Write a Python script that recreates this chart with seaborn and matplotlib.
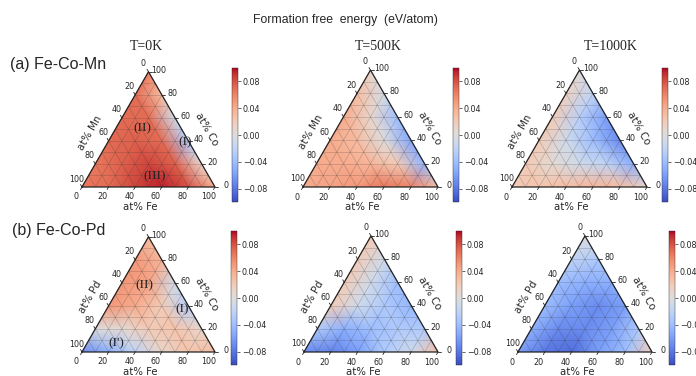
import numpy as np
import matplotlib
matplotlib.use("Agg")
import matplotlib.pyplot as plt
import matplotlib.tri as mtri
from matplotlib.ticker import FuncFormatter
import seaborn as sns

# formation free energy (eV/atom) on a 20 at% grid
# each row is one Co level (0, 20, ... 100), values go along Fe = 0, 20, ...
fecomn_0k = [
    [0.065, 0.070, 0.085, 0.095, 0.080, 0.040],
    [0.065, 0.075, 0.085, 0.075, 0.010],
    [0.070, 0.075, 0.070, -0.030],
    [0.070, 0.070, -0.010],
    [0.070, 0.030],
    [0.060],
]
fecomn_500k = [
    [0.040, 0.045, 0.050, 0.065, 0.060, 0.030],
    [0.040, 0.040, 0.035, 0.020, -0.045],
    [0.040, 0.030, 0.000, -0.055],
    [0.040, 0.010, -0.040],
    [0.030, -0.005],
    [0.010],
]
fecomn_1000k = [
    [0.020, 0.025, 0.030, 0.035, 0.030, 0.010],
    [0.020, 0.005, -0.010, -0.020, -0.050],
    [0.020, -0.010, -0.040, -0.070],
    [0.020, -0.025, -0.060],
    [0.015, -0.020],
    [0.000],
]
fecopd_0k = [
    [-0.070, -0.050, -0.020, 0.010, 0.025, 0.030],
    [0.000, 0.005, 0.020, 0.025, 0.010],
    [0.050, 0.040, 0.020, -0.025],
    [0.050, 0.045, -0.010],
    [0.050, 0.035],
    [0.030],
]
fecopd_500k = [
    [-0.070, -0.075, -0.060, -0.030, -0.010, 0.030],
    [-0.030, -0.050, -0.040, -0.030, -0.030],
    [0.020, -0.010, -0.030, -0.045],
    [0.020, -0.010, -0.040],
    [0.020, -0.010],
    [0.020],
]
fecopd_1000k = [
    [-0.060, -0.080, -0.085, -0.060, -0.040, 0.020],
    [-0.050, -0.070, -0.070, -0.060, -0.030],
    [-0.040, -0.060, -0.070, -0.060],
    [-0.040, -0.050, -0.050],
    [-0.020, -0.030],
    [0.000],
]

temps = ["T=0K", "T=500K", "T=1000K"]
systems = ["(a) Fe-Co-Mn", "(b) Fe-Co-Pd"]
third_elements = ["Mn", "Pd"]
tick_values = [0, 20, 40, 60, 80, 100]
cbar_ticks = [0.08, 0.04, 0.0, -0.04, -0.08]

# region labels: (text, at% Fe, at% Co)
regions_mn = [("(II)", 20, 51), ("(I)", 58, 39), ("(III)", 50, 9)]
regions_pd = [("(II)", 18, 58), ("(I)", 57, 37), ("(I')", 22, 8)]

W, H = 696, 376
S3 = np.sqrt(3) / 2

sns.set_theme(style="white")
plt.rcParams["font.family"] = ["DejaVu Sans"]
cmap = sns.color_palette("coolwarm", as_cmap=True)

fig = plt.figure(figsize=(W / 100, H / 100), dpi=100)


def to_xy(fe, co):
    fe = np.asarray(fe, dtype=float)
    co = np.asarray(co, dtype=float)
    return fe / 100 + co / 200, co / 100 * S3


def ternary(left, base, width, rows, third, regions):
    ax = fig.add_axes([left / W, 1 - base / H, width / W, width * S3 / H])
    ax.set_xlim(0, 1)
    ax.set_ylim(0, S3)
    ax.axis("off")

    fe, co, z = [], [], []
    for i, row in enumerate(rows):
        for j, v in enumerate(row):
            fe.append(j * 20)
            co.append(i * 20)
            z.append(v)
    x, y = to_xy(fe, co)
    tri = mtri.Triangulation(x, y)
    m = ax.tripcolor(tri, z, shading="gouraud", cmap=cmap, vmin=-0.1, vmax=0.1)

    # gridlines every 10 at%
    gk = dict(color="#333333", lw=0.45, alpha=0.3)
    for k in range(10, 100, 10):
        xs, ys = to_xy([k, k], [0, 100 - k])
        ax.plot(xs, ys, **gk)
        xs, ys = to_xy([0, 100 - k], [k, k])
        ax.plot(xs, ys, **gk)
        xs, ys = to_xy([0, 100 - k], [100 - k, 0])
        ax.plot(xs, ys, **gk)

    ax.plot([0, 1, 0.5, 0], [0, 0, S3, 0], color="#222222", lw=0.9, clip_on=False)

    tk = dict(color="#222222", lw=0.6, clip_on=False)
    fs = 5.8
    for t in tick_values:
        # bottom axis (Fe)
        bx, by = to_xy(t, 0)
        ax.plot([bx, bx - 0.011], [by, by - 0.019], **tk)
        ax.text(bx - 0.045, by - 0.075, str(t), ha="center", va="center", fontsize=fs)
        # right axis (Co)
        rx, ry = to_xy(100 - t, t)
        ax.plot([rx, rx + 0.024], [ry, ry], **tk)
        ax.text(rx + 0.08, ry + 0.012, str(t), ha="center", va="center", fontsize=fs)
        # left axis (third element)
        lx, ly = to_xy(0, 100 - t)
        ax.plot([lx, lx - 0.011], [ly, ly + 0.019], **tk)
        ax.text(lx - 0.04, ly + 0.06, str(t), ha="center", va="center", fontsize=fs)

    ax.text(0.44, -0.15, "at% Fe", ha="center", va="center", fontsize=7.3)
    ax.text(0.06, 0.41, f"at% {third}", ha="center", va="center", fontsize=7.3, rotation=60)
    ax.text(0.935, 0.435, "at% Co", ha="center", va="center", fontsize=7.3, rotation=-60)

    for label, f, c in regions:
        tx, ty = to_xy(f, c)
        ax.text(tx, ty, label, ha="center", va="center", fontsize=9.5,
                family="Liberation Serif", color="#222222")
    return m


def colorbar(m, xpx, ytop, ybot):
    cax = fig.add_axes([xpx / W, 1 - ybot / H, 6 / W, (ybot - ytop) / H])
    cb = fig.colorbar(m, cax=cax, ticks=cbar_ticks)
    cb.ax.yaxis.set_major_formatter(FuncFormatter(lambda v, p: f"{v:.2f}".replace("-", "\u2212")))
    cb.ax.tick_params(labelsize=5.8, length=2, width=0.5, pad=1.5, right=True)
    cb.outline.set_linewidth(0.3)


data = [[fecomn_0k, fecomn_500k, fecomn_1000k],
        [fecopd_0k, fecopd_500k, fecopd_1000k]]
tri_pos = [[(82, 187, 133), (303, 187, 135), (512, 187, 135)],
           [(82, 352, 133), (304, 352, 134), (518, 352, 134)]]
cbar_pos = [[(232, 68, 202), (453, 68, 202), (662, 68, 202)],
            [(231, 231, 365), (456, 231, 365), (669, 231, 365)]]
region_sets = [regions_mn, regions_pd]

for r in range(2):
    for c in range(3):
        left, base, width = tri_pos[r][c]
        reg = region_sets[r] if c == 0 else []
        m = ternary(left, base, width, data[r][c], third_elements[r], reg)
        colorbar(m, *cbar_pos[r][c])

fig.text(345 / W, 1 - 20 / H, "Formation free  energy  (eV/atom)", ha="center", va="center",
         fontsize=8.8, family="Liberation Sans")
for x, t in zip([146, 378, 611], temps):
    fig.text(x / W, 1 - 46 / H, t, ha="center", va="center", fontsize=10, family="Liberation Serif")
fig.text(10 / W, 1 - 64 / H, systems[0], ha="left", va="center", fontsize=11.5, family="Liberation Sans")
fig.text(12 / W, 1 - 230 / H, systems[1], ha="left", va="center", fontsize=11.5, family="Liberation Sans")

fig.savefig("out.png", dpi=100, facecolor="white")
